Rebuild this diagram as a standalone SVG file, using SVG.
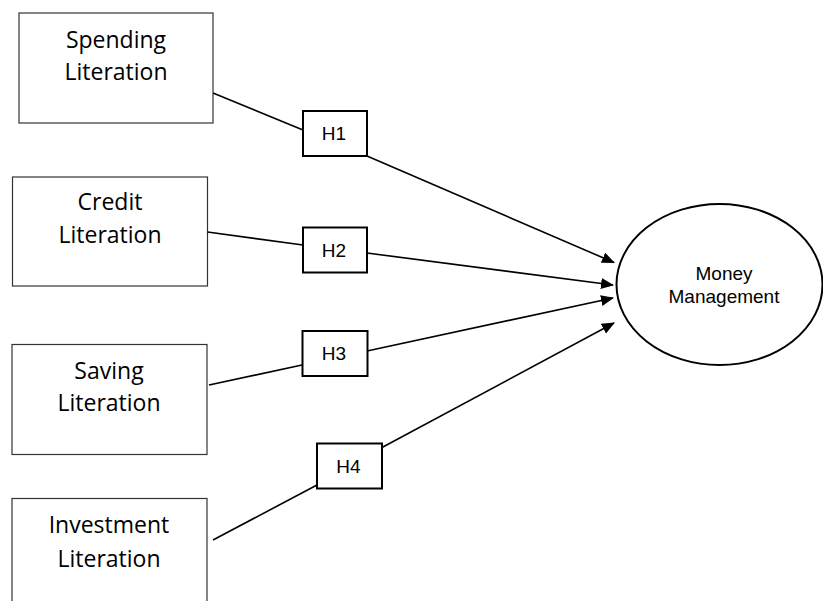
<svg xmlns="http://www.w3.org/2000/svg" width="823" height="601" viewBox="0 0 823 601">
<style>
.box{fill:#fff;stroke:#333;stroke-width:1.2}
.hbox{fill:#fff;stroke:#000;stroke-width:2}
.lbl{font-family:"Open Sans","Liberation Sans",sans-serif;font-size:23px;fill:#000;text-anchor:middle}
.hl{font-family:"Liberation Sans",Arial,sans-serif;font-size:19px;fill:#000;text-anchor:middle}
.ml{font-family:"Liberation Sans",Arial,sans-serif;font-size:19px;fill:#000;text-anchor:middle}
.ln{stroke:#000;stroke-width:1.6;fill:none}
</style>
<defs>
<marker id="arr" markerUnits="userSpaceOnUse" markerWidth="14" markerHeight="12" refX="12" refY="5.5" orient="auto">
<path d="M0,0 L13,5.5 L0,11 z" fill="#000"/>
</marker>
</defs>
<rect width="823" height="601" fill="#fff"/>
<g id="spending">
<rect class="box" x="19" y="13" width="194" height="110"/>
<text class="lbl" x="116" y="48">Spending</text>
<text class="lbl" x="116" y="80">Literation</text>
</g>
<g id="credit">
<rect class="box" x="12.5" y="177" width="195" height="109"/>
<text class="lbl" x="110" y="210">Credit</text>
<text class="lbl" x="110" y="243">Literation</text>
</g>
<g id="saving">
<rect class="box" x="12" y="344.5" width="195" height="110"/>
<text class="lbl" x="109" y="379">Saving</text>
<text class="lbl" x="109" y="411">Literation</text>
</g>
<g id="investment">
<rect class="box" x="12" y="498.5" width="195" height="120"/>
<text class="lbl" x="109" y="533">Investment</text>
<text class="lbl" x="109" y="567">Literation</text>
</g>
<g id="connectors">
<line class="ln" x1="213" y1="93" x2="303" y2="130"/>
<line class="ln" x1="367" y1="156" x2="614" y2="262.5" marker-end="url(#arr)"/>
<line class="ln" x1="207.5" y1="232" x2="303" y2="245"/>
<line class="ln" x1="367" y1="253" x2="613" y2="285" marker-end="url(#arr)"/>
<line class="ln" x1="209" y1="385" x2="302" y2="365"/>
<line class="ln" x1="367" y1="351" x2="613" y2="298" marker-end="url(#arr)"/>
<line class="ln" x1="213" y1="540" x2="317" y2="485"/>
<line class="ln" x1="382" y1="447.5" x2="614" y2="323" marker-end="url(#arr)"/>
</g>
<g id="h1">
<rect class="hbox" x="303" y="111" width="64" height="45"/>
<text class="hl" x="334" y="140">H1</text>
</g>
<g id="h2">
<rect class="hbox" x="303" y="227.5" width="64" height="45"/>
<text class="hl" x="334" y="257">H2</text>
</g>
<g id="h3">
<rect class="hbox" x="302.5" y="331" width="65" height="45"/>
<text class="hl" x="334" y="360">H3</text>
</g>
<g id="h4">
<rect class="hbox" x="317" y="443.5" width="65" height="45"/>
<text class="hl" x="348.5" y="473">H4</text>
</g>
<g id="money">
<ellipse cx="719.5" cy="284.5" rx="103" ry="80.5" fill="#fff" stroke="#000" stroke-width="2"/>
<text class="ml" x="724" y="280">Money</text>
<text class="ml" x="724" y="302.5">Management</text>
</g>
</svg>
